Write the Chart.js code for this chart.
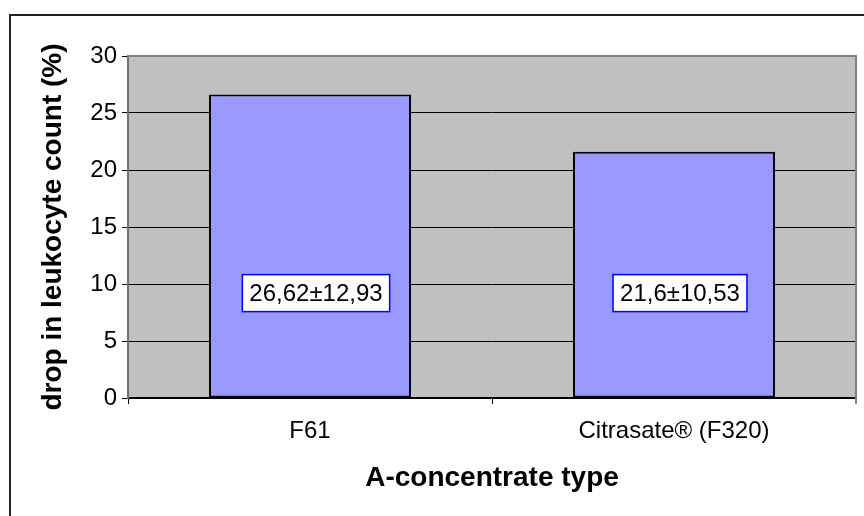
<!DOCTYPE html>
<html>
<head>
<meta charset="utf-8">
<script src="https://cdn.jsdelivr.net/npm/chart.js"></script>
<style>
html, body { margin: 0; padding: 0; background: #fff; }
canvas { display: block; }
</style>
</head>
<body>
<canvas id="myChart" width="864" height="516"></canvas>
<script>
let categories = ['F61', 'Citrasate® (F320)']
let dropValues = [26.62, 21.6]
let barLabels = ['26,62±12,93', '21,6±10,53']
let yTicks = [0, 5, 10, 15, 20, 25, 30]

let fontFamily = "'Liberation Sans', Arial, sans-serif"
let labelLevel = 9.2

// outer frame + grey plot background
let framePlugin = {
    id: 'frame',
    beforeDraw(chart) {
        let c = chart.ctx
        let a = chart.chartArea
        c.save()
        c.fillStyle = '#ffffff'
        c.fillRect(0, 0, chart.width, chart.height)
        c.strokeStyle = '#222222'
        c.lineWidth = 2
        c.beginPath()
        c.moveTo(10, chart.height)
        c.lineTo(10, 15)
        c.lineTo(chart.width, 15)
        c.stroke()
        c.fillStyle = '#c0c0c0'
        c.fillRect(a.left, a.top, a.right - a.left, a.bottom - a.top)
        c.restore()
    },
    beforeDatasetsDraw(chart) {
        let c = chart.ctx
        let a = chart.chartArea
        c.save()
        c.strokeStyle = '#808080'
        c.lineWidth = 2
        c.beginPath()
        c.moveTo(a.left, a.top)
        c.lineTo(a.right, a.top)
        c.lineTo(a.right, a.bottom + 6)
        c.stroke()
        c.restore()
    }
}

// white boxes with mean±sd inside the bars
let boxLabelPlugin = {
    id: 'boxLabels',
    afterDatasetsDraw(chart) {
        let c = chart.ctx
        let y = chart.scales.y.getPixelForValue(labelLevel)
        c.save()
        c.font = '24px ' + fontFamily
        c.textAlign = 'center'
        c.textBaseline = 'middle'
        chart.getDatasetMeta(0).data.forEach((bar, i) => {
            let txt = barLabels[i]
            let w = c.measureText(txt).width + 14
            let h = 37
            let x = bar.x + 6
            c.fillStyle = '#ffffff'
            c.fillRect(x - w / 2, y - h / 2, w, h)
            c.strokeStyle = '#0000ff'
            c.lineWidth = 1.5
            c.strokeRect(x - w / 2, y - h / 2, w, h)
            c.fillStyle = '#000000'
            c.fillText(txt, x, y + 1)
        })
        c.restore()
    }
}

let ctx = document.getElementById('myChart').getContext('2d')

let myChart = new Chart(ctx, {
    type: 'bar',
    data: {
        labels: categories,
        datasets: [{
            data: dropValues,
            backgroundColor: '#9999ff',
            borderColor: '#000000',
            borderWidth: 2,
            borderSkipped: false,
            categoryPercentage: 1,
            barPercentage: 0.555
        }]
    },
    options: {
        responsive: false,
        animation: false,
        devicePixelRatio: 1,
        layout: { padding: { top: 56, right: 8, left: 0, bottom: 0 } },
        plugins: {
            legend: { display: false },
            tooltip: { enabled: false }
        },
        scales: {
            x: {
                afterFit(scale) { scale.height = 118 },
                grid: {
                    offset: true,
                    drawOnChartArea: false,
                    tickLength: 6,
                    tickColor: '#000000',
                    color: '#000000'
                },
                border: { color: '#000000', width: 2 },
                ticks: {
                    color: '#000000',
                    padding: 13,
                    font: { family: fontFamily, size: 24 }
                },
                title: {
                    display: true,
                    text: 'A-concentrate type',
                    color: '#000000',
                    padding: { top: 0, bottom: 21 },
                    font: { family: fontFamily, size: 28, weight: 'bold' }
                }
            },
            y: {
                min: 0,
                max: 30,
                afterFit(scale) { scale.width = 128 },
                afterBuildTicks(scale) { scale.ticks = yTicks.map(v => ({ value: v })) },
                grid: {
                    color: '#000000',
                    lineWidth: 1,
                    tickLength: 6,
                    tickColor: '#000000'
                },
                border: { color: '#707070', width: 2 },
                ticks: {
                    color: '#000000',
                    padding: 5,
                    font: { family: fontFamily, size: 24 }
                },
                title: {
                    display: true,
                    text: 'drop in leukocyte count (%)',
                    color: '#000000',
                    padding: { top: 36, bottom: 0 },
                    font: { family: fontFamily, size: 28, weight: 'bold' }
                }
            }
        }
    },
    plugins: [framePlugin, boxLabelPlugin]
})
</script>
</body>
</html>
